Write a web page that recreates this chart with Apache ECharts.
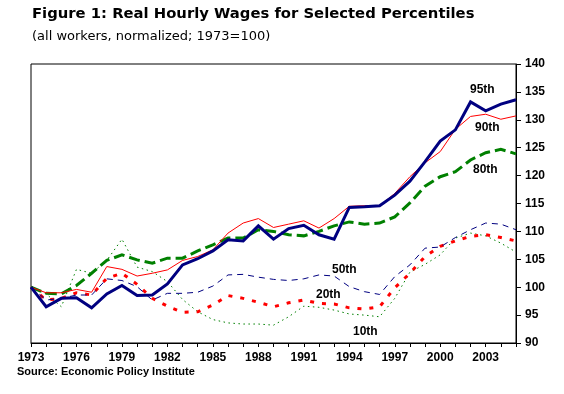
<!DOCTYPE html>
<html>
<head>
<meta charset="utf-8">
<script src="https://cdn.jsdelivr.net/npm/echarts@6/dist/echarts.min.js"></script>
<style>
html,body{margin:0;padding:0;background:#fff;}
#chart{width:564px;height:394px;}
</style>
</head>
<body>
<div id="chart"></div>
<script>
var years = ['1973','1974','1975','1976','1977','1978','1979','1980','1981','1982','1983','1984','1985','1986','1987','1988','1989','1990','1991','1992','1993','1994','1995','1996','1997','1998','1999','2000','2001','2002','2003','2004','2005'];
var p95 = [100, 96.5, 98.0, 98.1, 96.3, 98.8, 100.3, 98.5, 98.6, 100.6, 104.0, 105.1, 106.5, 108.5, 108.3, 111.0, 108.6, 110.5, 111.1, 109.4, 108.6, 114.3, 114.4, 114.6, 116.5, 119.0, 122.5, 126.2, 128.2, 133.2, 131.6, 132.8, 133.6];
var p90 = [100, 99.0, 99.0, 99.6, 99.1, 103.7, 103.2, 102.0, 102.5, 103.1, 104.8, 105.5, 106.7, 109.7, 111.5, 112.3, 110.7, 111.3, 111.9, 110.6, 112.3, 114.5, 114.6, 114.6, 116.8, 119.8, 122.3, 124.3, 128.3, 130.6, 131.0, 130.1, 130.7];
var p80 = [100, 98.9, 98.8, 100.3, 102.5, 104.8, 105.8, 104.9, 104.3, 105.2, 105.2, 106.5, 107.6, 108.8, 108.8, 110.3, 110.0, 109.4, 109.2, 110.0, 111.0, 111.7, 111.3, 111.5, 112.6, 115.1, 118.1, 119.8, 120.7, 122.8, 124.1, 124.7, 123.9];
var p50 = [100, 97.7, 98.0, 98.6, 98.6, 101.5, 101.2, 100.1, 97.7, 98.9, 98.9, 99.1, 100.2, 102.2, 102.3, 101.8, 101.4, 101.2, 101.5, 102.2, 102.0, 100.1, 99.2, 98.7, 101.9, 104.0, 107.0, 107.2, 108.9, 110.3, 111.5, 111.3, 110.3];
var p20 = [100, 97.7, 98.0, 99.0, 98.6, 101.6, 102.5, 100.5, 98.0, 96.6, 95.5, 95.6, 96.8, 98.5, 98.0, 97.3, 96.5, 97.2, 97.7, 97.1, 97.0, 96.3, 96.1, 96.5, 99.9, 102.5, 105.5, 107.3, 108.3, 109.1, 109.4, 108.9, 108.3];
var p10 = [100, 98.8, 96.5, 103.2, 102.5, 104.8, 108.6, 103.6, 102.8, 101.0, 97.8, 95.6, 94.2, 93.6, 93.4, 93.4, 93.2, 94.7, 96.6, 96.4, 95.9, 95.2, 95.0, 94.7, 98.0, 102.7, 104.1, 105.8, 108.8, 109.7, 109.2, 107.9, 106.3];

var titleText = 'Figure 1: Real Hourly Wages for Selected Percentiles';
var subtitleText = '(all workers, normalized; 1973=100)';
var sourceText = 'Source: Economic Policy Institute';

var FONT = 'Arial, "Liberation Sans", sans-serif';
var WIDEFONT = '"DejaVu Sans", sans-serif';
var NAVY = '#000080', RED = '#FF0000', GREEN = '#008000';

function line(name, data, color, width, type) {
  return {
    name: name, type: 'line', data: data, symbol: 'none', smooth: false,
    animation: false,
    lineStyle: { color: color, width: width, type: type, cap: 'butt', join: 'miter' }
  };
}
function lbl(text, x, y) {
  return { type: 'text', left: x, top: y,
    style: { text: text, fill: '#000', font: 'bold 12px ' + FONT } };
}

var chart = echarts.init(document.getElementById('chart'), null, {renderer: 'canvas'});
chart.setOption({
  backgroundColor: '#fff',
  animation: false,
  grid: { left: 31, right: 48, top: 64, bottom: 51, show: true, borderColor: '#000', borderWidth: 1, backgroundColor: 'transparent' },
  xAxis: {
    type: 'category', data: years, boundaryGap: false,
    axisLine: { lineStyle: { color: '#000', width: 1 } },
    axisTick: { show: true, interval: 0, length: 4, lineStyle: { color: '#000' } },
    axisLabel: { interval: 2, color: '#000', fontFamily: FONT, fontWeight: 'bold', fontSize: 12, margin: 9 },
    splitLine: { show: false }
  },
  yAxis: {
    type: 'value', position: 'right', min: 90, max: 140, interval: 5,
    axisLine: { show: true, lineStyle: { color: '#000', width: 1 } },
    axisTick: { show: true, length: 5, lineStyle: { color: '#000' } },
    axisLabel: { color: '#000', fontFamily: FONT, fontWeight: 'bold', fontSize: 12, margin: 9 },
    splitLine: { show: false }
  },
  series: [
    line('10th', p10, GREEN, 1, [1.5, 3.5]),
    line('20th', p20, RED, 3, [4, 8]),
    line('50th', p50, NAVY, 1, [6, 5]),
    line('80th', p80, GREEN, 3, [11, 5]),
    line('90th', p90, RED, 1, 'solid'),
    line('95th', p95, NAVY, 3, 'solid')
  ],
  graphic: [
    { type: 'text', left: 32, top: 7, style: { text: titleText, fill: '#000', font: 'bold 14.8px ' + WIDEFONT } },
    { type: 'text', left: 32, top: 30, style: { text: subtitleText, fill: '#000', font: '13px ' + WIDEFONT } },
    { type: 'text', left: 17, top: 366, style: { text: sourceText, fill: '#000', font: 'bold 11px ' + FONT } },
    lbl('95th', 470, 84),
    lbl('90th', 475, 122),
    lbl('80th', 473, 164),
    lbl('50th', 332, 264),
    lbl('20th', 316, 289),
    lbl('10th', 353, 326)
  ]
});
</script>
</body>
</html>
